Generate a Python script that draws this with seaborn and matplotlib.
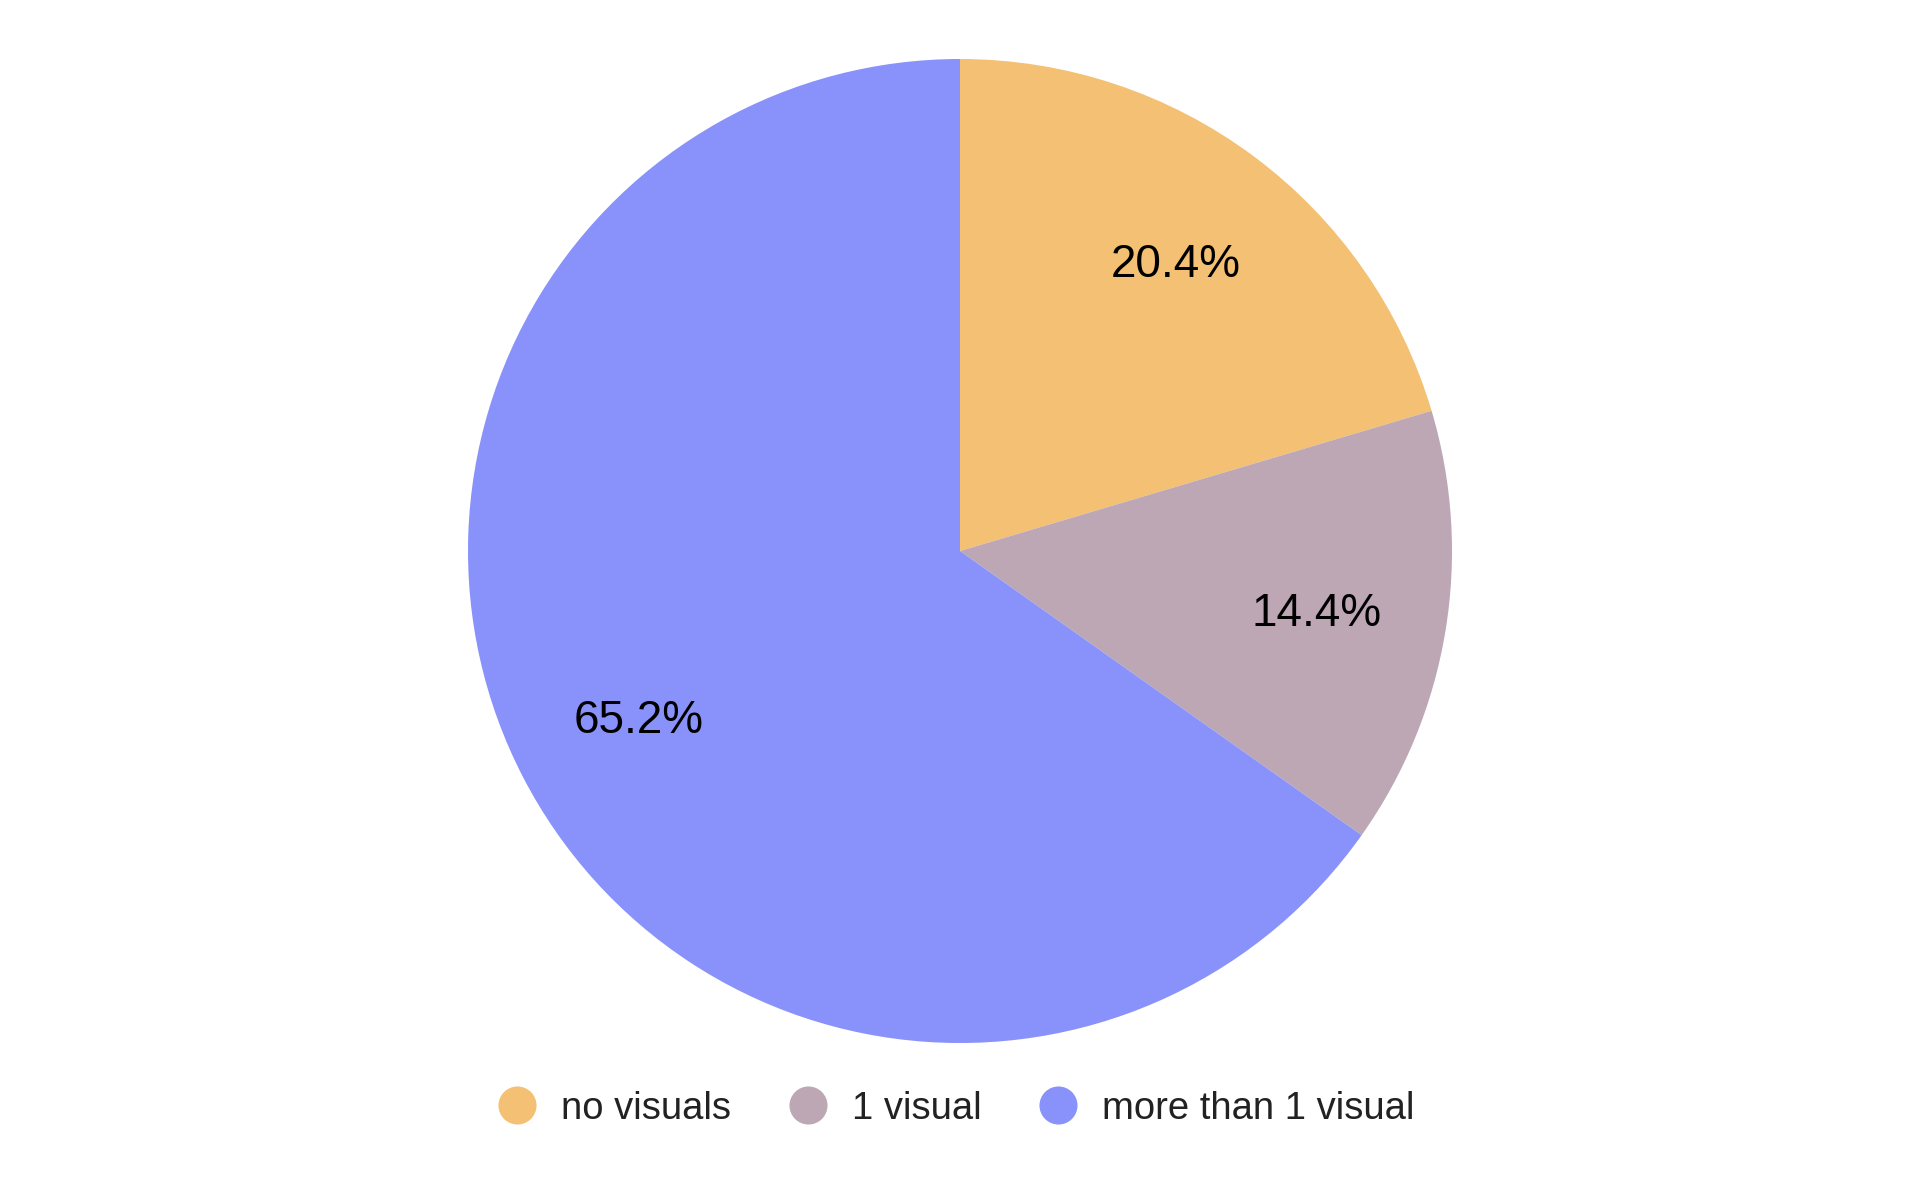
import matplotlib
matplotlib.use("Agg")
import matplotlib.pyplot as plt
from matplotlib.lines import Line2D
import seaborn as sns

# chart data
categories = ["no visuals", "1 visual", "more than 1 visual"]
shares = [20.4, 14.4, 65.2]
colors = ["#F4C073", "#BDA7B5", "#8892FA"]

sns.set_theme(style="white")
plt.rcParams["font.family"] = ["Liberation Sans", "DejaVu Sans"]

fig = plt.figure(figsize=(19.2, 11.87), dpi=100)
ax = fig.add_axes([0.24375, 0.1213, 0.5125, 0.829])

wedges, texts, autotexts = ax.pie(
    shares,
    colors=colors,
    startangle=90,
    counterclock=False,
    autopct="%.1f%%",
    pctdistance=0.735,
    textprops={"fontsize": 33, "color": "black"},
    wedgeprops={"linewidth": 0},
)
# nudge percentage labels slightly down to match the reference baseline
for t in autotexts:
    x, y = t.get_position()
    t.set_position((x, y - 0.008))

ax.set_xlim(-1, 1)
ax.set_ylim(-1, 1)
ax.set_aspect("equal")
ax.axis("off")

# legend with round markers below the pie
handles = [
    Line2D([0], [0], marker="o", linestyle="none", markersize=27.4,
           markerfacecolor=c, markeredgewidth=0)
    for c in colors
]
fig.legend(
    handles, categories,
    loc="center", bbox_to_anchor=(0.498, 0.066), ncol=3,
    frameon=False, fontsize=27.5,
    handlelength=1.0, handletextpad=0.65, columnspacing=1.5,
    labelcolor="#222222",
)

fig.savefig("out.png", dpi=100)
